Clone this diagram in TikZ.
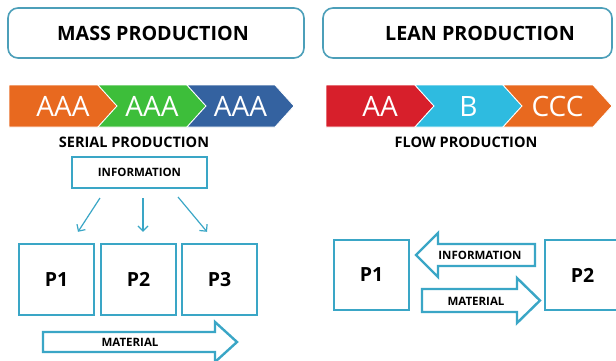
\documentclass[tikz,border=0pt]{standalone}
\usepackage{fontspec}
\setmainfont{Open Sans}
\newfontfamily\chevronfont{Open Sans}
\usetikzlibrary{positioning, calc, arrows.meta}

\definecolor{boxblue}{HTML}{4C9FB9}
\definecolor{lineblue}{HTML}{3AA6C6}
\definecolor{chorange}{HTML}{E8691F}
\definecolor{chgreen}{HTML}{3DBE3A}
\definecolor{chblue}{HTML}{3462A0}
\definecolor{chred}{HTML}{D71F2B}
\definecolor{chcyan}{HTML}{2EBBE0}

\begin{document}
\begin{tikzpicture}[x=1pt, y=-1pt,
    titlebox/.style={draw=boxblue, line width=1.6pt, rounded corners=10pt, minimum height=50pt},
    titletext/.style={font=\bfseries\fontsize{19.7}{23}\selectfont},
    pbox/.style={draw=lineblue, line width=2.4pt, minimum width=75pt, minimum height=71pt, font=\bfseries\fontsize{19.5}{22}\selectfont},
    chtext/.style={text=white, font=\chevronfont\fontsize{28}{30}\selectfont},
    small/.style={font=\bfseries\fontsize{11.5}{13}\selectfont},
    blockarrow/.style={draw=lineblue, line width=2.4pt, fill=white, line join=miter},
    infoarrow/.style={draw=lineblue, line width=1.2pt, -{Straight Barb[length=5pt,width=10pt]}}]
  \clip (0,0) rectangle (616,360);
  \fill[white] (0,0) rectangle (616,360);

  % headings
  \node[titlebox, minimum width=296pt] (mass) at (156,33) {};
  \node[titletext] (masstext) at (153,33) {MASS PRODUCTION};
  \node[titlebox, minimum width=289pt] (lean) at (467.5,33) {};
  \node[titletext] (leantext) at (480,33) {LEAN PRODUCTION};

  % chevrons
  \foreach \l/\r/\n/\c/\t [count=\i] in {9/98/0/chorange/AAA, 98/187/19/chgreen/AAA, 187/275/19/chblue/AAA}{
    \filldraw[fill=\c, draw=white, line width=0.8pt] (\l,85) -- (\r,85) -- (\r+19,106) -- (\r,127) -- (\l,127) -- (\l+\n,106) -- cycle;
    \node[chtext] (ser\i) at ({(\l+\r+19)/2},106) {\t};
  }
  \foreach \l/\r/\n/\c/\t [count=\i] in {326/415/0/chred/AA, 415/503/19/chcyan/B, 503/593/19/chorange/CCC}{
    \filldraw[fill=\c, draw=white, line width=0.8pt] (\l,85) -- (\r,85) -- (\r+19,106) -- (\r,127) -- (\l,127) -- (\l+\n,106) -- cycle;
    \node[chtext] (flo\i) at ({(\l+\r+19)/2},106) {\t};
  }
  \node[font=\bfseries\fontsize{14.5}{16}\selectfont] (serial) at (134,142) {SERIAL PRODUCTION};
  \node[font=\bfseries\fontsize{14.5}{16}\selectfont] (flow) at (466,142) {FLOW PRODUCTION};

  % mass production
  \node[draw=lineblue, line width=2pt, minimum width=135pt, minimum height=31pt, small] (info) at (139.5,172.5) {INFORMATION};
  \foreach \x [count=\i] in {56.5,138.5,219.5}
    \node[pbox] (p\i) at (\x,279.5) {P\i};
  \draw[infoarrow] ([xshift=-39.5pt,yshift=-9pt]info.south) -- ([xshift=21.5pt,yshift=11pt]p1.north);
  \draw[infoarrow] ([xshift=3.5pt,yshift=-9pt]info.south) -- ([xshift=4.5pt,yshift=11pt]p2.north);
  \draw[infoarrow] ([xshift=38.5pt,yshift=-8pt]info.south) -- ([xshift=-12.5pt,yshift=11pt]p3.north);
  \draw[blockarrow] (43,332) -- (215,332) -- (215,322) -- (237,342) -- (215,362) -- (215,352) -- (43,352) -- cycle;
  \node[small] (mat) at (130,342) {MATERIAL};

  % lean production
  \node[pbox, minimum height=70pt] (q1) at (371.5,275) {P1};
  \node[pbox, minimum height=70pt] (q2) at (582.5,275) {P2};
  \draw[blockarrow] (535,244) -- (438,244) -- (438,233) -- (416,255) -- (438,277) -- (438,266) -- (535,266) -- cycle;
  \node[small] (pull) at (480,255) {INFORMATION};
  \draw[blockarrow] (422,289) -- (517,289) -- (517,278) -- (540,300.5) -- (517,323) -- (517,312) -- (422,312) -- cycle;
  \node[small] (push) at (476,301) {MATERIAL};
\end{tikzpicture}
\end{document}
